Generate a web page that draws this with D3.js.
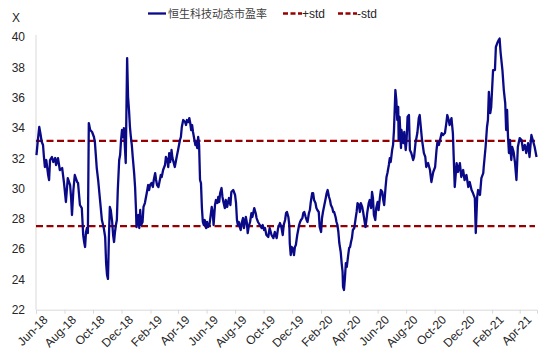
<!DOCTYPE html>
<html><head><meta charset="utf-8">
<script src="https://cdn.jsdelivr.net/npm/d3@7"></script>
<style>body{margin:0;background:#fff}svg{display:block}</style>
</head><body>
<svg id="c" width="550" height="359"></svg>
<script>
// ---- data ----
const startDate = "2018-06-01";
// trading-day positions (days after startDate) and PE values
const dayOffsets = [1,4,7,10,12,15,17,19,22,26,28,30,34,37,41,43,47,51,56,60,64,68,73,75,77,80,83,88,90,94,98,101,103,105,107,109,111,113,116,120,124,126,130,133,137,141,145,148,150,152,154,156,158,160,163,165,167,169,171,173,175,178,180,182,184,186,188,190,192,195,197,199,201,203,205,207,210,212,214,215,219,221,223,225,228,230,233,237,240,242,244,247,250,252,255,257,259,262,265,267,269,272,276,278,281,283,285,287,289,290,292,297,301,304,308,310,312,315,319,321,323,326,328,330,332,334,336,339,341,343,345,347,349,351,353,355,357,359,361,364,366,368,371,373,376,378,380,383,385,388,390,392,394,397,399,401,404,406,409,411,413,416,418,422,426,428,430,432,434,436,438,440,443,445,449,451,453,455,458,461,463,467,470,472,475,479,483,485,488,490,493,497,500,504,508,511,515,518,522,525,528,530,533,535,537,540,542,543,545,547,549,552,554,556,559,561,563,565,567,570,572,574,577,579,581,584,586,588,591,593,595,598,600,602,605,607,610,612,614,617,620,622,624,627,629,631,634,636,638,641,643,645,647,649,652,654,656,657,659,661,663,665,668,670,672,674,676,678,681,684,686,688,691,693,695,698,700,702,705,707,709,712,714,717,719,721,723,726,728,731,733,736,738,741,743,745,748,750,752,755,757,759,762,764,766,769,771,773,775,776,778,781,782,786,788,791,793,795,798,800,803,807,809,812,816,819,821,823,826,830,833,835,839,843,846,850,854,857,859,862,866,868,871,875,878,880,883,885,889,892,894,896,900,903,907,910,914,917,921,925,928,932,935,939,941,944,946,950,953,957,958,960,962,965,967,969,972,974,978,982,984,987,990,992,994,998,1001,1004,1006,1008,1010,1012,1014,1017,1019,1022,1025,1028,1031,1035,1039,1042,1046,1049,1053,1056,1060,1063,1067,1071];
const peValues = [32.21,33.20,34.06,33.53,33.10,32.87,32.08,31.42,31.88,30.89,30.56,31.88,32.08,31.75,32.01,31.55,32.01,31.22,31.35,30.36,29.11,30.69,30.23,29.44,28.25,29.90,30.89,30.43,30.36,28.91,28.71,26.93,26.47,26.14,27.13,27.39,27.06,34.32,33.86,33.73,33.40,33.07,31.35,30.56,29.24,27.92,27.39,26.80,25.08,24.29,24.03,26.80,28.78,28.58,27.79,26.93,26.47,27.13,27.59,27.92,29.90,31.88,32.21,33.20,33.86,33.40,33.99,32.87,31.68,38.61,36.04,35.18,34.06,33.40,32.87,32.08,31.02,30.10,28.58,27.46,28.25,27.39,28.58,27.59,27.79,28.78,29.04,29.70,30.23,29.90,30.23,30.36,30.10,30.56,31.02,30.56,30.23,30.10,30.56,30.89,30.76,31.22,31.55,32.08,31.88,31.42,32.34,31.75,32.08,32.54,32.01,31.42,32.08,32.54,33.20,33.40,34.06,34.52,34.39,34.19,34.52,34.39,34.65,34.32,33.86,34.19,33.73,33.20,32.87,33.07,32.67,33.40,32.87,30.56,30.36,28.71,27.79,27.59,27.92,27.39,27.79,27.46,27.59,28.05,28.78,28.45,27.59,28.91,29.24,29.04,29.44,29.11,29.70,30.03,29.44,29.11,28.71,29.24,28.78,29.11,29.37,28.91,29.77,29.90,29.57,29.04,27.92,27.59,27.79,27.46,27.26,27.72,28.05,27.39,28.12,27.79,27.06,27.46,27.79,28.38,28.12,28.71,28.38,28.05,27.79,27.59,27.39,27.59,27.26,27.39,26.93,26.80,27.39,26.93,26.73,27.13,26.73,27.39,27.72,27.46,26.93,27.59,27.92,28.38,28.45,28.12,27.59,26.40,25.61,26.14,26.07,25.61,26.14,26.27,26.93,27.26,27.59,27.79,27.92,28.05,28.38,28.45,28.12,27.92,27.79,28.38,28.58,29.11,29.70,29.70,29.24,29.04,28.71,28.58,28.45,27.46,27.13,28.05,28.45,28.91,29.37,29.70,29.90,29.44,29.24,28.91,28.71,28.45,28.45,28.12,27.79,27.59,27.13,26.40,25.81,25.08,24.49,23.50,23.30,24.09,25.08,24.82,25.61,26.07,26.14,26.47,26.73,27.26,27.39,28.05,28.45,29.04,28.91,28.45,29.04,28.78,28.45,28.05,27.46,27.92,28.45,29.04,29.24,28.71,29.77,29.37,28.25,27.92,28.71,29.11,28.58,29.44,29.90,29.77,29.24,28.91,30.10,30.76,31.02,31.55,32.01,31.75,32.54,32.87,33.86,36.50,35.84,34.52,35.38,33.20,34.72,32.67,33.86,33.00,33.73,32.54,33.20,34.72,34.85,32.54,32.34,31.88,32.08,33.00,33.66,34.65,34.85,34.19,33.20,32.34,32.08,31.42,31.68,31.22,30.43,31.09,31.42,32.54,33.07,32.87,33.40,33.66,33.53,33.66,34.32,34.85,34.52,34.19,34.65,33.66,31.88,30.10,31.68,31.09,31.68,30.76,31.22,30.56,30.89,30.10,30.43,29.90,29.70,29.37,27.06,29.44,29.90,29.57,30.69,31.02,31.42,32.08,32.74,34.06,34.52,36.37,34.98,35.38,37.82,37.82,39.34,39.60,39.80,39.90,39.01,37.82,36.50,35.64,33.86,35.18,33.40,32.34,33.20,31.88,32.74,32.41,31.68,30.56,32.74,33.33,33.20,32.54,32.87,32.34,33.00,32.08,33.53,33.20,32.74,32.08];
const plusStd = 33.15;
const minusStd = 27.52;
const yTicks = [22,24,26,28,30,32,34,36,38,40];
const xTickDates = ["2018-06-01","2018-08-01","2018-10-01","2018-12-01","2019-02-01","2019-04-01","2019-06-01","2019-08-01","2019-10-01","2019-12-01","2020-02-01","2020-04-01","2020-06-01","2020-08-01","2020-10-01","2020-12-01","2021-02-01","2021-04-01"];
const seriesNames = ["恒生科技动态市盈率","+std","-std"];
const axisEndOffset = 1072;

// ---- chart ----
const parse = d3.timeParse("%Y-%m-%d");
const base = parse(startDate);
const data = dayOffsets.map((d,i)=>({date:d3.timeDay.offset(base,d), v:peValues[i]}));
const svg = d3.select("#c");
const L=36, R=537, T=37, B=309.7;
const x = d3.scaleTime().domain([base, d3.timeDay.offset(base, axisEndOffset)]).range([L,R]);
const y = d3.scaleLinear().domain([22,40]).range([B,T]);
const font = "'Liberation Sans', Arial, sans-serif";
const grey = "#d9d9d9";

// y axis line
svg.append("line").attr("x1",L).attr("x2",L).attr("y1",T-2).attr("y2",B).attr("stroke",grey).attr("stroke-width",1);
// y labels
svg.append("g").selectAll("text").data(yTicks).join("text")
  .attr("x",L-11).attr("y",d=>y(d)).attr("dy","0.36em").attr("text-anchor","end")
  .attr("font-family",font).attr("font-size",12).attr("fill","#262626").text(d=>d);
// x axis
const xAxis = d3.axisBottom(x).tickValues(xTickDates.map(parse)).tickFormat(d3.timeFormat("%b-%y")).tickSizeOuter(0).tickSize(4);
const gx = svg.append("g").attr("transform",`translate(0,${B})`).call(xAxis);
gx.select(".domain").attr("stroke",grey);
gx.selectAll(".tick line").attr("stroke",grey);
gx.selectAll(".tick text").attr("font-family",font).attr("font-size",12).attr("fill","#262626")
  .attr("text-anchor","end").attr("transform","translate(4,3) rotate(-45)").attr("dy","0.6em").attr("y",4).attr("x",0);

// "X" unit label
svg.append("text").attr("x",12).attr("y",22).attr("font-family",font).attr("font-size",12).attr("fill","#262626").text("X");

// std lines
const red = "#960000";
[plusStd,minusStd].forEach(v=>{
  svg.append("line").attr("x1",L).attr("x2",R-2).attr("y1",y(v)).attr("y2",y(v))
    .attr("stroke",red).attr("stroke-width",2.3).attr("stroke-dasharray","7,3.5");
});
// main line
svg.append("path").datum(data)
  .attr("d", d3.line().x(d=>x(d.date)).y(d=>y(d.v)))
  .attr("fill","none").attr("stroke","#0a0a88").attr("stroke-width",2.3).attr("stroke-linejoin","round");

// legend
const lg = svg.append("g");
lg.append("line").attr("x1",148).attr("x2",166).attr("y1",13.5).attr("y2",13.5).attr("stroke","#0a0a88").attr("stroke-width",2.3);
lg.append("text").attr("x",168).attr("y",17.5).attr("font-family","'Noto Sans CJK SC', sans-serif").attr("font-size",11).attr("fill","#404040").text(seriesNames[0]);
[[283,seriesNames[1]],[338,seriesNames[2]]].forEach(([x0,t])=>{
  lg.append("line").attr("x1",x0).attr("x2",x0+19).attr("y1",13.5).attr("y2",13.5).attr("stroke",red).attr("stroke-width",2.3).attr("stroke-dasharray","5,2.5");
  lg.append("text").attr("x",x0+19).attr("y",18).attr("font-family",font).attr("font-size",12).attr("fill","#262626").text(t);
});
</script>
</body></html>
